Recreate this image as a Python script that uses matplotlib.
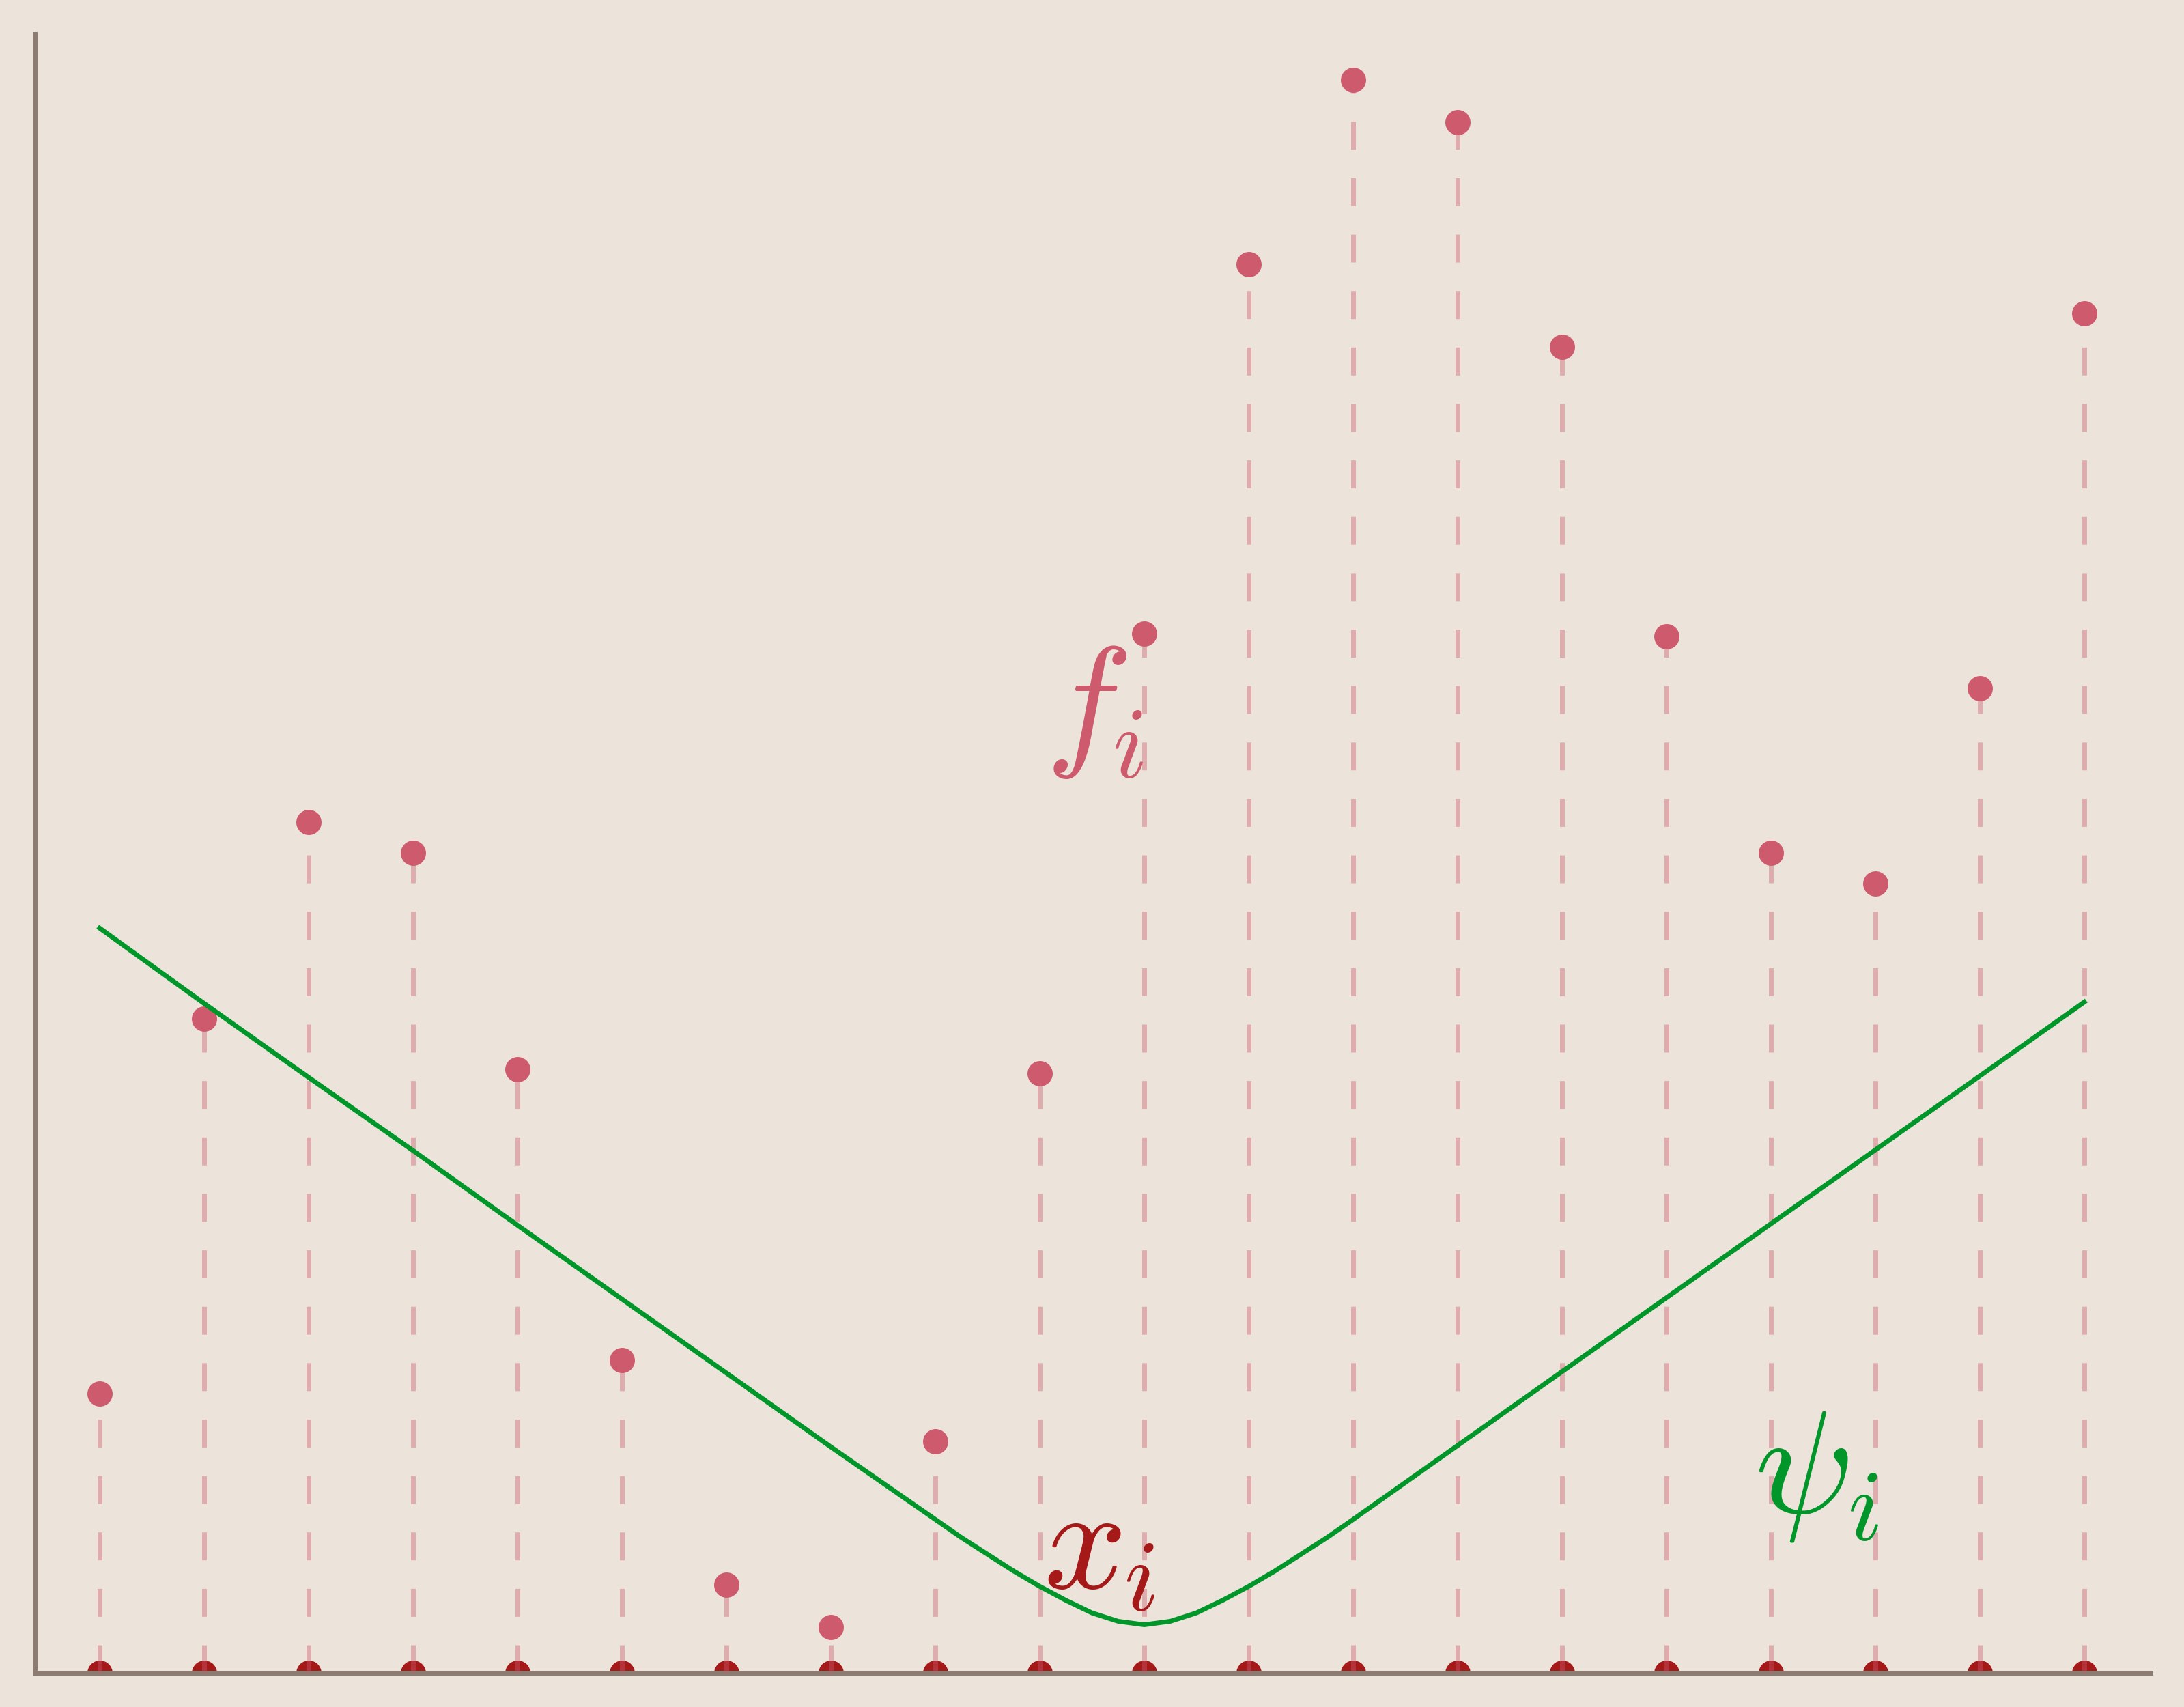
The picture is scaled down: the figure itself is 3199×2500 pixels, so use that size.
import numpy as np
import matplotlib
matplotlib.use('Agg')
import matplotlib.pyplot as plt

plt.rcParams['mathtext.fontset'] = 'cm'

# sample positions and values
x_pos = list(range(20))
f_vals = [2.00, 4.69, 6.10, 5.88, 4.33, 2.24, 0.63, 0.33, 1.66, 4.30,
          7.45, 10.10, 11.42, 11.12, 9.51, 7.43, 5.88, 5.66, 7.06, 9.75]

psi_x = [0, 1, 2, 3, 4, 5, 6, 7, 7.5, 8, 8.25, 8.5, 8.75, 9, 9.25, 9.5, 9.75, 10,
         10.25, 10.5, 10.75, 11, 11.25, 11.5, 11.75, 12, 12.5, 13, 14, 15, 16, 17, 18, 19]
psi_vals = [5.34, 4.80, 4.27, 3.745, 3.21, 2.68, 2.15, 1.62, 1.36, 1.10, 0.97, 0.85, 0.73, 0.62,
            0.52, 0.43, 0.37, 0.345,
            0.37, 0.43, 0.52, 0.62, 0.73, 0.85, 0.97, 1.10, 1.365, 1.63, 2.16, 2.69, 3.22, 3.75,
            4.28, 4.81]

bg = '#ece4da'
f_col = '#cd5a6d'
x_col = '#a51919'
psi_col = '#00962a'
spine_col = '#8c7b70'

fig = plt.figure(figsize=(15.995, 12.5), dpi=200)
fig.patch.set_facecolor(bg)
ax = fig.add_axes([50.5 / 3199, 50 / 2500, (3150 - 50.5) / 3199, 2400 / 2500])
ax.set_facecolor(bg)

# x_i markers sitting on the axis (lower half clipped)
ax.plot(x_pos, np.zeros(len(x_pos)), 'o', color=x_col, ms=13.3, mew=0, zorder=2)

# dashed drop lines
for xi, fi in zip(x_pos, f_vals):
    ax.plot([xi, xi], [0, fi], color=f_col, alpha=0.4, lw=2.5,
            dashes=(5.9, 6.0), zorder=3)

ax.plot(x_pos, f_vals, 'o', color=f_col, ms=13.3, mew=0, zorder=4)
ax.plot(psi_x, psi_vals, color=psi_col, lw=2.5, zorder=5, solid_joinstyle='round')

# labels: base letter and subscript drawn separately
main_fs = 77
sub_fs = 53.5
ax.text(9.444, 6.908, r'$f$', color=f_col, fontsize=main_fs, ha='center', va='center', zorder=6)
ax.text(9.846, 6.626, r'$i$', color=f_col, fontsize=sub_fs, ha='center', va='center', zorder=6)
ax.text(9.408, 0.898, r'$x$', color=x_col, fontsize=main_fs, ha='center', va='center', zorder=6)
ax.text(9.954, 0.654, r'$i$', color=x_col, fontsize=sub_fs, ha='center', va='center', zorder=6)
ax.text(16.29, 1.434, r'$\psi$', color=psi_col, fontsize=main_fs, ha='center', va='center', zorder=6)
ax.text(16.88, 1.158, r'$i$', color=psi_col, fontsize=sub_fs, ha='center', va='center', zorder=6)

ax.set_xlim(-0.624, 19.634)
ax.set_ylim(0, 11.75)
ax.spines['top'].set_visible(False)
ax.spines['right'].set_visible(False)
for s in ['left', 'bottom']:
    ax.spines[s].set_color(spine_col)
    ax.spines[s].set_linewidth(2.5)
    ax.spines[s].set_zorder(2.5)
ax.set_xticks([])
ax.set_yticks([])

fig.savefig('out.png', dpi=200, facecolor=bg)
